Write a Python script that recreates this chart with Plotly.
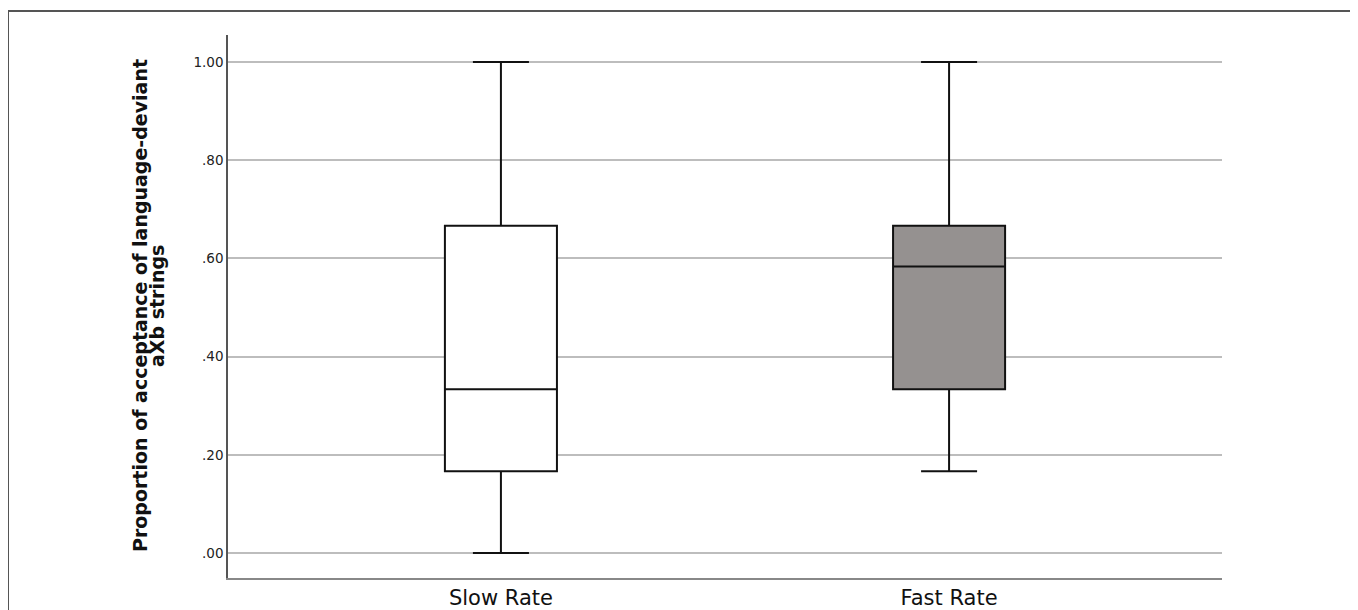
import plotly.graph_objects as go

categories = ["Slow Rate", "Fast Rate"]
q1 = [0.1667, 0.3333]
median = [0.3333, 0.5833]
q3 = [0.6667, 0.6667]
lower = [0.0, 0.1667]
upper = [1.0, 1.0]
fills = ["#ffffff", "#959190"]
tick_vals = [0.0, 0.2, 0.4, 0.6, 0.8, 1.0]
tick_text = [".00", ".20", ".40", ".60", ".80", "1.00"]
title_lines = ["Proportion of acceptance of language-deviant", "aXb strings"]

fig = go.Figure()
for i, c in enumerate(categories):
    fig.add_trace(go.Box(
        x=[c], q1=[q1[i]], median=[median[i]], q3=[q3[i]],
        lowerfence=[lower[i]], upperfence=[upper[i]],
        fillcolor=fills[i], line=dict(color="#111111", width=2),
        width=0.25, whiskerwidth=0.5, boxpoints=False,
        showlegend=False, hoverinfo="skip"))

# plot area absolute: x 228..1222, y 35..578 (page has 8px body margin)
PL, PR, PT, PB = 228, 1222, 35, 578
def px_x(p):
    return (p - PL) / (PR - PL)
def px_y(p):
    return (PB - p) / (PB - PT)

annotations = []
for xpix, txt in zip([140, 157], title_lines):
    annotations.append(dict(
        text=txt, xref="paper", yref="paper", x=px_x(xpix), y=px_y(306),
        xanchor="center", yanchor="middle", showarrow=False, textangle=-90,
        font=dict(family="DejaVu Sans", size=19, weight="bold", color="#111111")))

fig.update_layout(
    width=1350, height=602,
    margin=dict(l=PL - 8, r=1358 - PR, t=PT - 8, b=610 - PB),
    plot_bgcolor="white", paper_bgcolor="white",
    font=dict(family="DejaVu Sans", color="#111111"),
    xaxis=dict(range=[-0.609, 1.609], showline=True, linecolor="#888888", linewidth=2,
               showgrid=False, ticks="", tickfont=dict(size=21, color="#111111"),
               fixedrange=True, zeroline=False, automargin=False),
    yaxis=dict(range=[-0.0509, 1.055], showline=True, linecolor="#555555", linewidth=1.5,
               tickvals=tick_vals, ticktext=tick_text, ticks="",
               tickfont=dict(size=13.5, color="#222222"), automargin=False,
               showgrid=True, gridcolor="#bdbdbd", gridwidth=1.5, zeroline=False),
    annotations=annotations,
    shapes=[dict(type="rect", xref="paper", yref="paper",
                 x0=px_x(8), x1=px_x(1355), y0=-0.2, y1=px_y(11),
                 line=dict(color="#555555", width=2), fillcolor="rgba(0,0,0,0)", layer="below")],
)

fig.write_html("out.html")
